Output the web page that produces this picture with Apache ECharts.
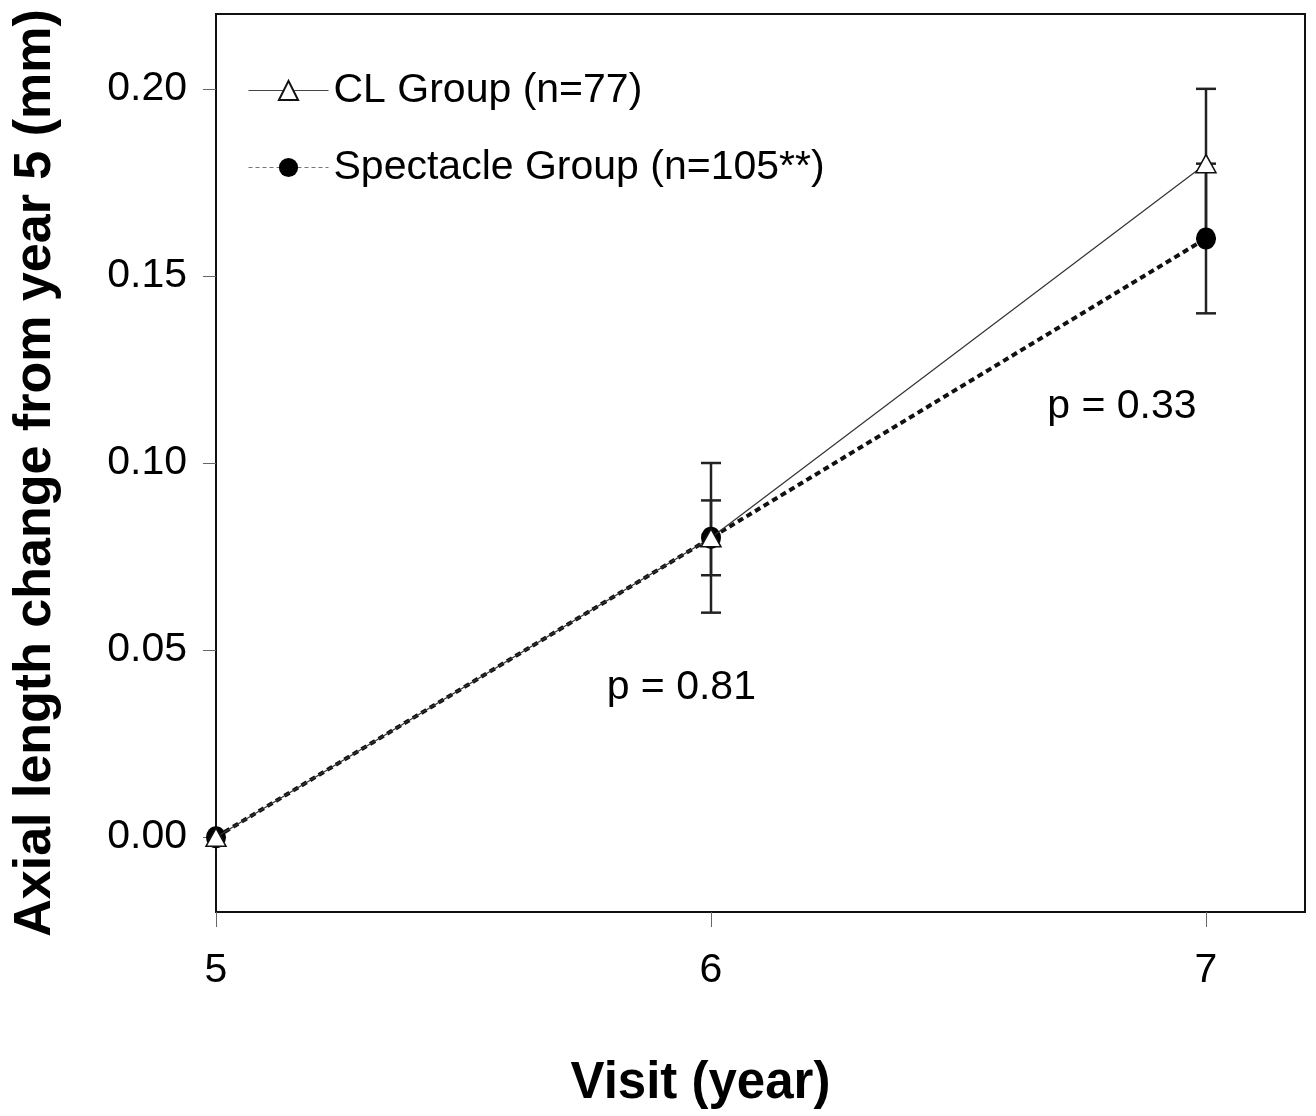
<!DOCTYPE html>
<html>
<head>
<meta charset="utf-8">
<script src="https://cdn.jsdelivr.net/npm/echarts@6/dist/echarts.min.js"></script>
<style>
  html, body { margin: 0; padding: 0; background: #fff; }
  #main { width: 1316px; height: 1116px; }
</style>
</head>
<body>
<div id="main"></div>
<script>
const visits = [5, 6, 7]
const clMean = [0, 0.08, 0.18]
const clErr = [0, 0.02, 0.02]
const specMean = [0, 0.08, 0.16]
const specErr = [0, 0.01, 0.02]
const xTicks = [5, 6, 7]
const yTicks = [0, 0.05, 0.10, 0.15, 0.20]
const pNotes = [
    { name: 'p = 0.81', value: [5.94, 0.04] },
    { name: 'p = 0.33', value: [6.83, 0.115] }
]

const font = 'Liberation Sans, Arial, sans-serif'
const myChart = echarts.init(document.getElementById('main'))

const pairs = (ys) => visits.map((v, i) => [v, ys[i]])

// error bars: [x, low, high], skip visits with no spread
const errData = []
visits.forEach((v, i) => {
    if (clErr[i] > 0) errData.push([v, clMean[i] - clErr[i], clMean[i] + clErr[i]])
    if (specErr[i] > 0) errData.push([v, specMean[i] - specErr[i], specMean[i] + specErr[i]])
})

const renderErr = (params, api) => {
    const lo = api.coord([api.value(0), api.value(1)])
    const hi = api.coord([api.value(0), api.value(2)])
    const w = 10
    const style = { stroke: '#222', lineWidth: 2.5 }
    return {
        type: 'group',
        children: [
            { type: 'line', shape: { x1: lo[0], y1: lo[1], x2: hi[0], y2: hi[1] }, style },
            { type: 'line', shape: { x1: lo[0] - w, y1: lo[1], x2: lo[0] + w, y2: lo[1] }, style },
            { type: 'line', shape: { x1: hi[0] - w, y1: hi[1], x2: hi[0] + w, y2: hi[1] }, style }
        ]
    }
}

const option = {
    backgroundColor: '#fff',
    animation: false,
    textStyle: { fontFamily: font },
    grid: {
        left: 216, top: 14, right: 11, bottom: 204,
        outerBoundsMode: 'none', containLabel: false,
        show: true, borderColor: '#111', borderWidth: 2, backgroundColor: 'transparent'
    },
    legend: {
        left: 248, top: 70, orient: 'vertical', padding: 0,
        itemWidth: 80, itemHeight: 24, itemGap: 36,
        textStyle: { fontSize: 41, color: '#000', fontFamily: font },
        data: [
            { name: 'CL Group (n=77)', lineStyle: { width: 1, color: '#444', type: 'solid' } },
            { name: 'Spectacle Group (n=105**)', lineStyle: { width: 1, color: '#777', type: [4, 3] } }
        ]
    },
    xAxis: {
        type: 'value', min: 5, max: 7.2, interval: 1,
        name: 'Visit (year)', nameLocation: 'middle', nameGap: 146,
        nameTextStyle: {
            fontSize: 51, fontWeight: 'bold', color: '#000', fontFamily: font,
            padding: [0, 120, 0, 0]
        },
        axisLine: { onZero: false, lineStyle: { color: '#111', width: 2 } },
        axisTick: { customValues: xTicks, length: 15, lineStyle: { color: '#666' } },
        axisLabel: { customValues: xTicks, margin: 38, fontSize: 41, color: '#000' },
        splitLine: { show: false }
    },
    yAxis: {
        type: 'value', min: -0.02, max: 0.22,
        name: 'Axial length change from year 5 (mm)', nameLocation: 'middle', nameGap: 154,
        nameTextStyle: {
            fontSize: 52, fontWeight: 'bold', color: '#000', fontFamily: font,
            padding: [0, 20, 0, 0]
        },
        axisLine: { onZero: false, lineStyle: { color: '#111', width: 1.5 } },
        axisTick: { customValues: yTicks, length: 13, lineStyle: { color: '#666' } },
        axisLabel: {
            customValues: yTicks, margin: 29, fontSize: 41, color: '#000',
            formatter: (v) => v.toFixed(2)
        },
        splitLine: { show: false }
    },
    series: [
        {
            type: 'custom', name: 'err', renderItem: renderErr, data: errData, z: 1
        },
        {
            name: 'Spectacle Group (n=105**)', type: 'line', data: pairs(specMean), z: 2,
            symbol: 'circle', symbolSize: [20, 22],
            itemStyle: { color: '#000' },
            lineStyle: { color: '#111', width: 4, type: [6, 4] }
        },
        {
            name: 'CL Group (n=77)', type: 'line', data: pairs(clMean), z: 3,
            symbol: 'triangle', symbolSize: [20, 18],
            itemStyle: { color: '#fff', borderColor: '#111', borderWidth: 1.5 },
            lineStyle: { color: '#333', width: 1.2 }
        },
        {
            type: 'scatter', name: 'notes', symbolSize: 0, data: pNotes, z: 4,
            itemStyle: { opacity: 1 },
            label: {
                show: true, position: 'inside', formatter: (p) => p.name,
                fontSize: 41, color: '#000', fontFamily: font
            }
        }
    ]
}

myChart.setOption(option)
</script>
</body>
</html>
